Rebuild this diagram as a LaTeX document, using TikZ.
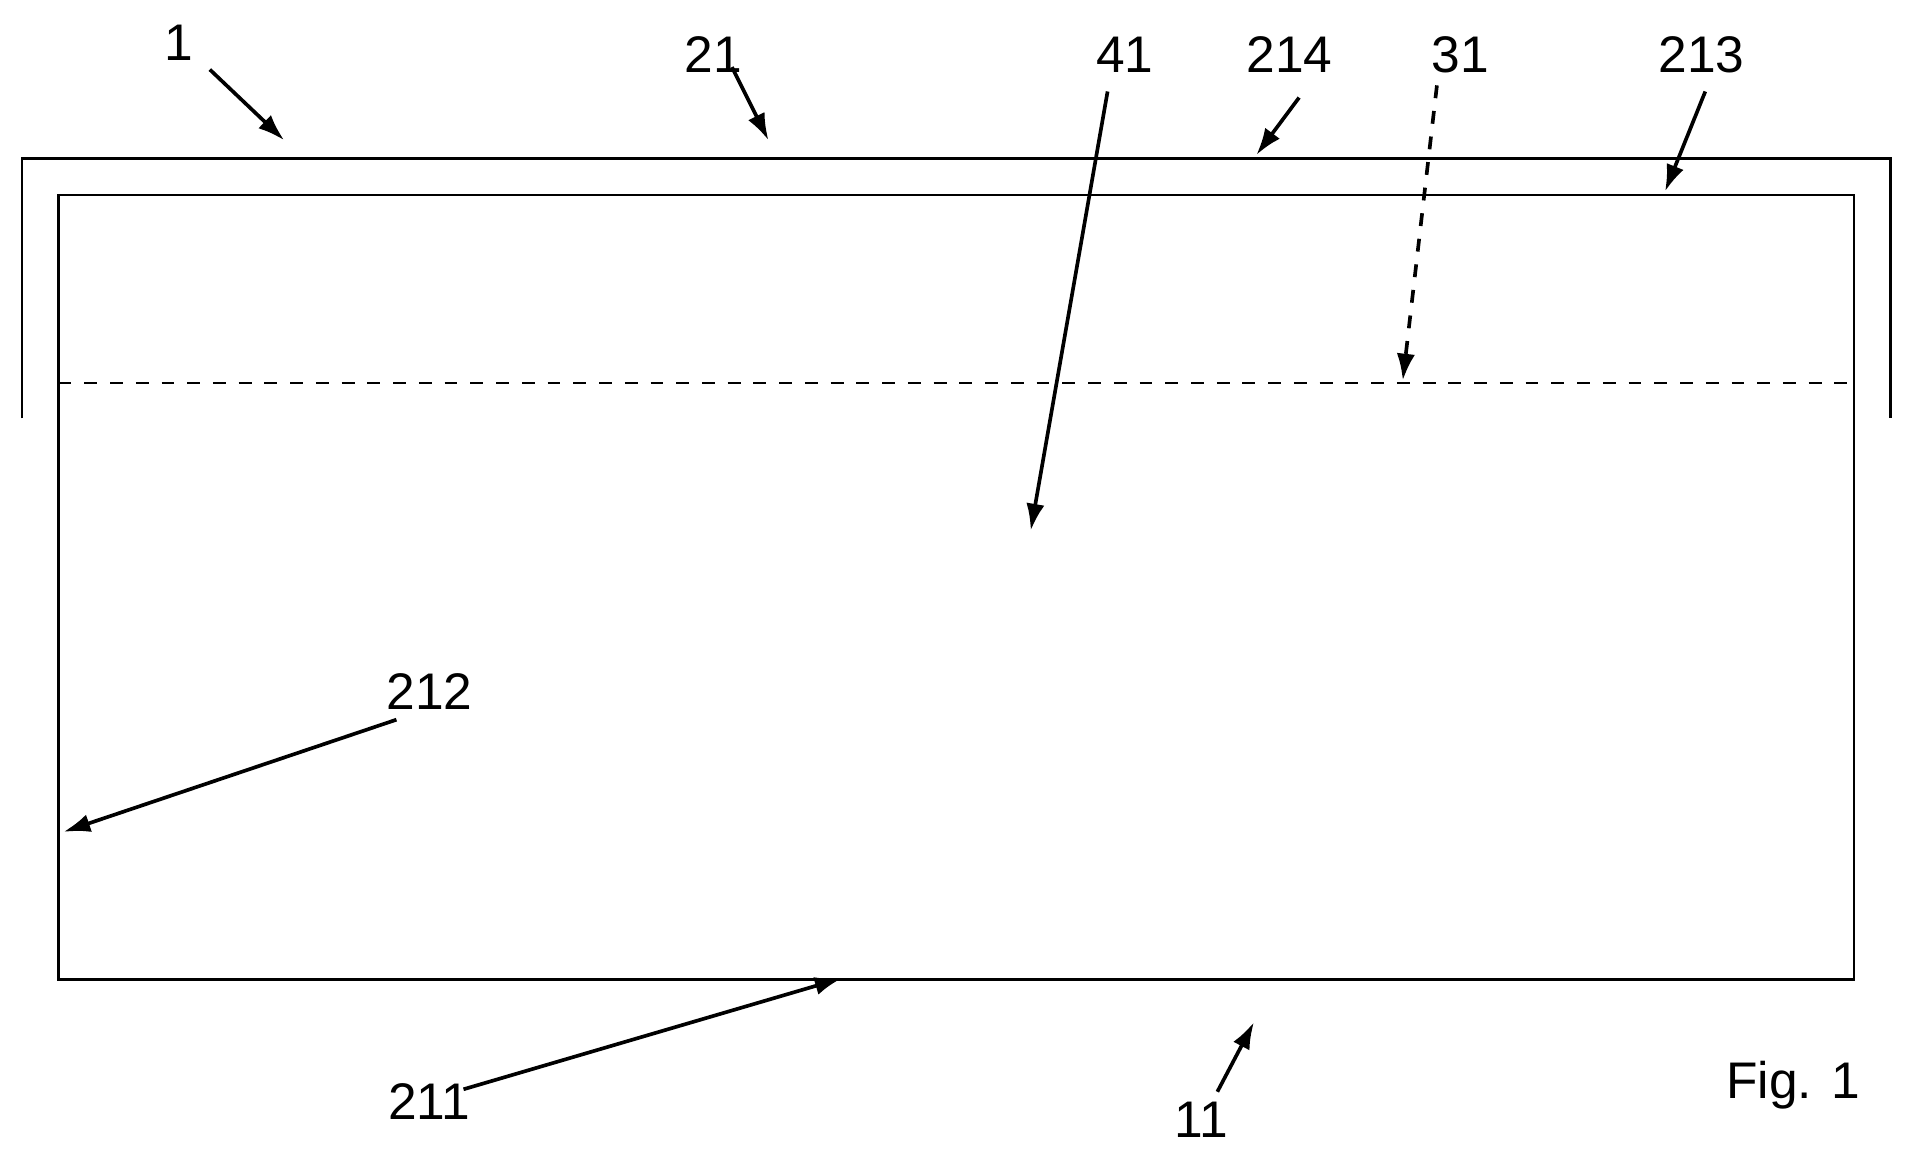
\documentclass[tikz,border=0pt]{standalone}
\usepackage{fontspec}
\setmainfont{Liberation Sans}
\usetikzlibrary{arrows.meta}
\tikzset{
  part/.style={line width=0.02cm},
  lead/.style={line width=0.03cm,-{Latex[length=0.22cm,width=0.15cm]}},
  refno/.style={font=\fontsize{12}{14}\selectfont,inner sep=0pt}
}
\begin{document}
\begin{tikzpicture}[x=0.01cm,y=-0.01cm]
            \useasboundingbox (0,0) rectangle (1565,949);
            
            % Drawing outer frame 1
            \draw [part] (18,343) -- (18,130) -- (1550,130) -- (1550,343);%
            
            % Drawing inner body
            \draw [part] (48,160) rectangle (1520,803);%
            
            % Drawing level line
            \draw [part,dashed] (48,314) -- (1520,314);%
            
            % Reference numbers
            \node [refno] (n1) at (147,35) {1};%
            \node [refno] (n21) at (585,45) {21};%
            \node [refno] (n41) at (922,45) {41};%
            \node [refno] (n214) at (1057,45) {214};%
            \node [refno] (n31) at (1197,45) {31};%
            \node [refno] (n213) at (1395,45) {213};%
            \node [refno] (n212) at (352,567) {212};%
            \node [refno] (n211) at (352,903) {211};%
            \node [refno] (n11) at (985,918) {11};%
            \node [refno] (fig) at (1470,890) {Fig. 1};%
            
            % Lead lines
            \coordinate (s1) at (172,57);   \coordinate (t1) at (233,115);
            \coordinate (s21) at (600,55);  \coordinate (t21) at (630,115);
            \coordinate (s41) at (908,75);  \coordinate (t41) at (845,435);
            \coordinate (s214) at (1065,80);\coordinate (t214) at (1030,127);
            \coordinate (s31) at (1178,70); \coordinate (t31) at (1150,312);
            \coordinate (s213) at (1398,75);\coordinate (t213) at (1365,157);
            \coordinate (s212) at (325,590);\coordinate (t212) at (52,682);
            \coordinate (s211) at (380,893);\coordinate (t211) at (690,802);
            \coordinate (s11) at (998,895); \coordinate (t11) at (1028,838);
            \draw [lead] (s1) -- (t1);%
            \draw [lead] (s21) -- (600,55) -- (t21);%
            \draw [lead] (s41) -- (t41);%
            \draw [lead] (s214) -- (t214);%
            \draw [lead,dashed] (s31) -- (t31);%
            \draw [lead] (s213) -- (t213);%
            \draw [lead] (s212) -- (t212);%
            \draw [lead] (s211) -- (t211);%
            \draw [lead] (s11) -- (t11);%
        \end{tikzpicture}
\end{document}
